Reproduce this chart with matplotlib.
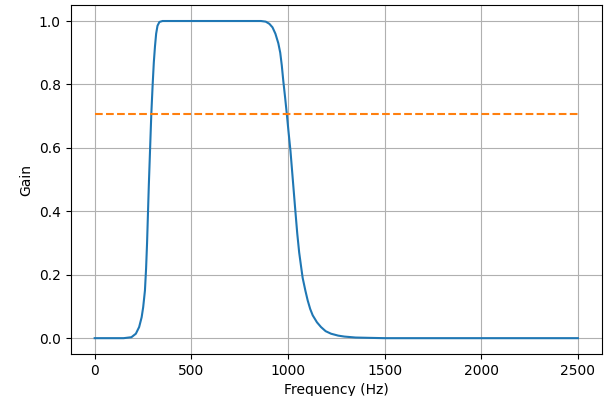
import matplotlib
matplotlib.use("Agg")
import matplotlib.pyplot as plt

# Frequenzgang
freq_hz = [0, 150, 190, 213, 230, 243, 251, 260, 266, 271, 275, 280, 284, 288,
           293, 300, 306, 312, 318, 325, 335, 351, 500, 700, 860, 885, 904,
           920, 935, 950, 960, 968, 976, 985, 994, 1003, 1013, 1025, 1037,
           1048, 1058, 1068, 1076, 1090, 1102, 1115, 1128, 1150, 1171, 1195,
           1223, 1260, 1292, 1350, 1420, 1500, 2000, 2500]
gain = [0.0, 0.0, 0.003, 0.014, 0.035, 0.066, 0.098, 0.15, 0.22, 0.30, 0.38, 0.48, 0.55, 0.62,
        0.707, 0.80, 0.87, 0.92, 0.96, 0.985, 0.997, 1.0, 1.0, 1.0, 1.0, 0.998, 0.991,
        0.98, 0.96, 0.93, 0.90, 0.86, 0.81, 0.76, 0.707, 0.65, 0.59, 0.50, 0.41,
        0.33, 0.27, 0.225, 0.19, 0.15, 0.119, 0.092, 0.072, 0.05, 0.035, 0.022,
        0.014, 0.008, 0.005, 0.002, 0.001, 0.0, 0.0, 0.0]

# -3 dB Linie
ref_freq = [0, 2500]
ref_gain = [0.7071, 0.7071]

fig, ax = plt.subplots(figsize=(6.1, 3.96), dpi=100)
fig.subplots_adjust(left=0.1156, right=0.987, top=0.987, bottom=0.106)

ax.plot(freq_hz, gain)
ax.plot(ref_freq, ref_gain, "--")
ax.set_xlabel("Frequency (Hz)")
ax.set_ylabel("Gain")
ax.grid(True)

fig.savefig("out.png", dpi=100)
plt.close(fig)
